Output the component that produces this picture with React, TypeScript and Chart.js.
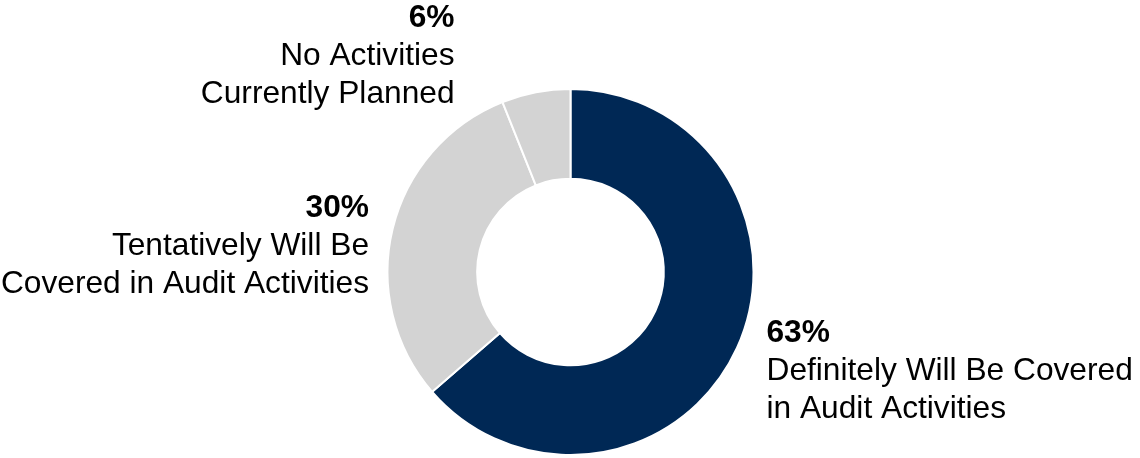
import { useEffect, useRef } from "react";
import { Chart, registerables } from "chart.js";

Chart.register(...registerables);

// Share of respondents by planned audit coverage
const categories = [
  "Definitely Will Be Covered in Audit Activities",
  "Tentatively Will Be Covered in Audit Activities",
  "No Activities Currently Planned",
];
const shares = [63, 30, 6];
const labelLines = [
  ["Definitely Will Be Covered", "in Audit Activities"],
  ["Tentatively Will Be", "Covered in Audit Activities"],
  ["No Activities", "Currently Planned"],
];
const sliceColors = ["#002855", "#d3d3d3", "#d3d3d3"];

// Where each callout sits, relative to the doughnut centre
const calloutLayout = [
  { dx: 196, dy: 70, align: "left" as CanvasTextAlign },
  { dx: -201.5, dy: -55, align: "right" as CanvasTextAlign },
  { dx: -116, dy: -245, align: "right" as CanvasTextAlign },
];

const FONT_FAMILY = '"Liberation Sans", Arial, Helvetica, sans-serif';
const FONT_SIZE = 31.7;
const LINE_GAP = 38;

const calloutPlugin = {
  id: "callouts",
  afterDraw(chart: any) {
    const meta = chart.getDatasetMeta(0);
    const arc = meta.data[0];
    if (!arc) return;
    const { x, y } = arc.getProps(["x", "y"], true);
    const ctx: CanvasRenderingContext2D = chart.ctx;
    ctx.save();
    ctx.fillStyle = "#000000";
    ctx.textBaseline = "alphabetic";
    shares.forEach((v, i) => {
      const pos = calloutLayout[i];
      const tx = x + pos.dx;
      let ty = y + pos.dy;
      ctx.textAlign = pos.align;
      ctx.font = `bold ${FONT_SIZE}px ${FONT_FAMILY}`;
      ctx.fillText(`${v}%`, tx, ty);
      ctx.font = `${FONT_SIZE}px ${FONT_FAMILY}`;
      labelLines[i].forEach((line) => {
        ty += LINE_GAP;
        ctx.fillText(line, tx, ty);
      });
    });
    ctx.restore();
  },
};

export default function App() {
  const canvasRef = useRef<HTMLCanvasElement | null>(null);

  useEffect(() => {
    if (!canvasRef.current) return;
    const chart = new Chart(canvasRef.current, {
      type: "doughnut",
      data: {
        labels: categories,
        datasets: [
          {
            data: shares,
            backgroundColor: sliceColors,
            borderColor: "#ffffff",
            borderWidth: 2,
            hoverOffset: 0,
          },
        ],
      },
      options: {
        responsive: true,
        maintainAspectRatio: false,
        animation: false,
        events: [],
        cutout: "51%",
        rotation: 0,
        layout: { padding: { top: 88, bottom: 2, left: 1, right: 0 } },
        plugins: {
          legend: { display: false },
          tooltip: { enabled: false },
        },
      },
      plugins: [calloutPlugin],
    });
    return () => chart.destroy();
  }, []);

  return (
    <div
      style={{
        position: "fixed",
        left: 0,
        top: 0,
        width: 1140,
        height: 458,
        background: "#ffffff",
      }}
    >
      <canvas ref={canvasRef} />
    </div>
  );
}
